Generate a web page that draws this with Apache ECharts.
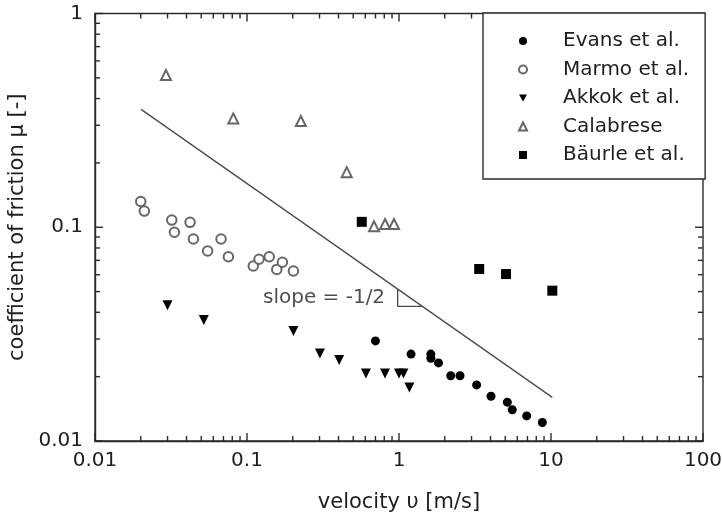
<!DOCTYPE html>
<html>
<head>
<meta charset="utf-8">
<title>Coefficient of friction vs velocity</title>
<script src="https://cdn.jsdelivr.net/npm/echarts@6/dist/echarts.min.js"></script>
<style>
  html, body { margin: 0; padding: 0; background: #fff; }
  #chart { width: 722px; height: 518px; }
</style>
</head>
<body>
<div id="chart"></div>
<script>
// Tick labels of the two logarithmic axes
const velocityTicks = ['0.01', '0.1', '1', '10', '100'];
const frictionTicks = ['0.01', '0.1', '1'];

// Measured friction data: [velocity m/s, coefficient of friction]
const evans = [
  [0.70, 0.0294], [1.20, 0.0255], [1.62, 0.0255], [1.62, 0.0244], [1.82, 0.0232],
  [2.19, 0.0202], [2.52, 0.0202], [3.24, 0.0183], [4.03, 0.0162], [5.16, 0.0152],
  [5.56, 0.0140], [6.92, 0.0131], [8.77, 0.0122]
];
const marmo = [
  [0.020, 0.132], [0.0211, 0.119], [0.032, 0.108], [0.0333, 0.0947], [0.0422, 0.1054],
  [0.0444, 0.0881], [0.0551, 0.0774], [0.0675, 0.0881], [0.0754, 0.0728], [0.110, 0.0659],
  [0.120, 0.0708], [0.140, 0.0728], [0.157, 0.0635], [0.171, 0.0686], [0.202, 0.0624]
];
const akkok = [
  [0.030, 0.0432], [0.052, 0.0368], [0.202, 0.0327], [0.302, 0.0257], [0.404, 0.0239],
  [0.606, 0.0207], [0.809, 0.0207], [1.00, 0.0207], [1.07, 0.0207], [1.17, 0.0178]
];
const calabrese = [
  [0.0293, 0.515], [0.0813, 0.323], [0.226, 0.314], [0.453, 0.181],
  [0.685, 0.101], [0.81, 0.1035], [0.927, 0.1035]
];
const baurle = [
  [0.569, 0.106], [3.37, 0.0638], [5.06, 0.0604], [10.2, 0.0505]
];

// Reference line of slope -1/2 and its slope triangle
const slopeLine = [[0.0201, 0.356], [10.2, 0.0160]];
const slopeTriangle = [[0.98, 0.0514], [0.98, 0.0426], [1.41, 0.0426]];
const slopeLabelAnchor = [[0.81, 0.0467]];
const slopeLabel = 'slope = -1/2';

const seriesNames = ['Evans et al.', 'Marmo et al.', 'Akkok et al.', 'Calabrese', 'B\u00e4urle et al.'];

// Axis ranges (decades)
const velocityRange = [0.01, 100];
const frictionRange = [0.01, 1];

const FONT = '"DejaVu Sans", "Liberation Sans", Arial, sans-serif';
const INK = '#1e1e1e';
const FRAME = '#2a2a2a';
const OPEN = '#666';
const MAJOR_LEN = 8;
const MINOR_LEN = 5;
const TICK_WIDTH = 1.4;
const DOWN_TRIANGLE = 'path://M0,0 L10,0 L5,9 Z';

function tickText(list) {
  return function (v) {
    const s = String(+v.toPrecision(3));
    return list.indexOf(s) >= 0 ? s : '';
  };
}

// Decade (major) and 2..9 (minor) tick values of a log axis
function logTickValues(range) {
  const major = [], minor = [];
  for (let d = range[0]; d <= range[1] * 1.001; d *= 10) {
    major.push(+d.toPrecision(3));
    if (d < range[1] * 0.999) {
      for (let m = 2; m <= 9; m++) minor.push(+(d * m).toPrecision(3));
    }
  }
  return { major: major, minor: minor };
}

// Inward tick marks drawn as thin rect symbols on one edge of the frame
function tickSeries(values, edge, len) {
  const horizontal = edge === 'bottom' || edge === 'top';
  const data = values.map(function (v) {
    if (edge === 'bottom') return [v, frictionRange[0]];
    if (edge === 'top') return [v, frictionRange[1]];
    if (edge === 'left') return [velocityRange[0], v];
    return [velocityRange[1], v];
  });
  const offset = {
    bottom: [0, -len / 2], top: [0, len / 2], left: [len / 2, 0], right: [-len / 2, 0]
  }[edge];
  return {
    type: 'scatter', data: data, silent: true, clip: false, z: 6,
    symbol: 'rect',
    symbolSize: horizontal ? [TICK_WIDTH, len] : [len, TICK_WIDTH],
    symbolOffset: offset,
    itemStyle: { color: FRAME, opacity: 1 },
    emphasis: { disabled: true }
  };
}

const xTicks = logTickValues(velocityRange);
const yTicks = logTickValues(frictionRange);
const frameTicks = [
  tickSeries(xTicks.major, 'bottom', MAJOR_LEN), tickSeries(xTicks.minor, 'bottom', MINOR_LEN),
  tickSeries(xTicks.major, 'top', MAJOR_LEN), tickSeries(xTicks.minor, 'top', MINOR_LEN),
  tickSeries(yTicks.major, 'left', MAJOR_LEN), tickSeries(yTicks.minor, 'left', MINOR_LEN),
  tickSeries(yTicks.major, 'right', MAJOR_LEN), tickSeries(yTicks.minor, 'right', MINOR_LEN)
];

const chart = echarts.init(document.getElementById('chart'));

chart.setOption({
  backgroundColor: '#fff',
  animation: false,
  grid: {
    left: 95, right: 19, top: 13.5, bottom: 77,
    outerBoundsMode: 'none',
    show: true, borderColor: FRAME, borderWidth: 1.4
  },
  xAxis: {
    type: 'log', min: velocityRange[0], max: velocityRange[1],
    axisLine: { show: true, lineStyle: { color: FRAME, width: 1.4 } },
    axisTick: { show: false },
    splitLine: { show: false },
    axisLabel: { margin: 10, color: INK, fontFamily: FONT, fontSize: 20, formatter: tickText(velocityTicks) },
    name: 'velocity \u03c5 [m/s]', nameLocation: 'middle', nameGap: 51,
    nameTextStyle: { color: INK, fontFamily: FONT, fontSize: 21 }
  },
  yAxis: {
    type: 'log', min: frictionRange[0], max: frictionRange[1],
    axisLine: { show: true, lineStyle: { color: FRAME, width: 1.4 } },
    axisTick: { show: false },
    splitLine: { show: false },
    axisLabel: { margin: 12, color: INK, fontFamily: FONT, fontSize: 20, formatter: tickText(frictionTicks) },
    name: 'coefficient of friction \u03bc [-]', nameLocation: 'middle', nameGap: 56,
    nameTextStyle: { color: INK, fontFamily: FONT, fontSize: 21 }
  },
  legend: {
    data: seriesNames.map(function (n, i) {
      return i === 2 ? { name: n, icon: DOWN_TRIANGLE } : { name: n };
    }),
    orient: 'vertical',
    left: 483, top: 13,
    padding: [18, 16, 14, 35],
    itemWidth: 8, itemHeight: 8,
    itemGap: 8.5,
    backgroundColor: '#fff',
    borderColor: FRAME, borderWidth: 1.4,
    selectedMode: false,
    z: 10,
    textStyle: { color: INK, fontFamily: FONT, fontSize: 20, padding: [0, 0, 0, 31] }
  },
  series: frameTicks.concat([
    {
      type: 'line', data: slopeLine, showSymbol: false, symbol: 'none', silent: true,
      lineStyle: { color: '#4a4a4a', width: 1.3 }, z: 1
    },
    {
      type: 'line', data: slopeTriangle, showSymbol: false, symbol: 'none', silent: true,
      lineStyle: { color: '#4a4a4a', width: 1.3 }, z: 1
    },
    {
      type: 'scatter', data: slopeLabelAnchor, symbolSize: 0, silent: true,
      label: { show: true, position: 'left', distance: 0, formatter: slopeLabel, color: INK, fontFamily: FONT, fontSize: 20 }
    },
    {
      name: seriesNames[0], type: 'scatter', data: evans,
      symbol: 'circle', symbolSize: 9, itemStyle: { color: '#000', opacity: 1 }, z: 3
    },
    {
      name: seriesNames[1], type: 'scatter', data: marmo,
      symbol: 'emptyCircle', symbolSize: 9.5, itemStyle: { color: OPEN, borderColor: OPEN, borderWidth: 1.2, opacity: 1 }, z: 3
    },
    {
      name: seriesNames[2], type: 'scatter', data: akkok,
      symbol: 'triangle', symbolRotate: 180, symbolSize: 10, itemStyle: { color: '#000', opacity: 1 }, z: 3
    },
    {
      name: seriesNames[3], type: 'scatter', data: calabrese,
      symbol: 'emptyTriangle', symbolSize: 10, itemStyle: { color: OPEN, borderColor: OPEN, borderWidth: 1.2, opacity: 1 }, z: 3
    },
    {
      name: seriesNames[4], type: 'scatter', data: baurle,
      symbol: 'rect', symbolSize: 10, itemStyle: { color: '#000', opacity: 1 }, z: 3
    }
  ])
});
</script>
</body>
</html>
